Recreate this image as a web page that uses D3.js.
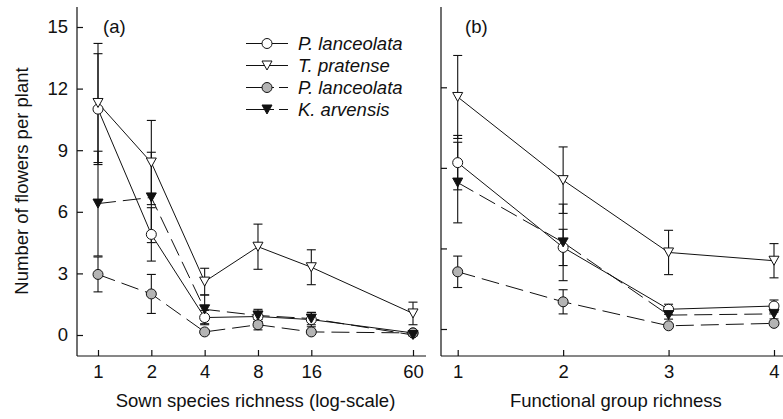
<!DOCTYPE html>
<html>
<head>
<meta charset="utf-8">
<script src="https://cdn.jsdelivr.net/npm/d3@7"></script>
<style>
  html, body { margin: 0; padding: 0; background: #fff; }
  svg { display: block; font-family: "Liberation Sans", Arial, Helvetica, sans-serif; }
</style>
</head>
<body>
<svg id="chart" width="783" height="419"></svg>
<script>
// ---- Panel (a): sown species richness (log scale) ----
const speciesRichness = [1, 2, 4, 8, 16, 60];
const plOpenA   = [11.0, 4.9, 0.85, 0.9, 0.75, 0.1];
const plOpenErrA = [2.7, 1.3, 0.35, 0.25, 0.35, 0.1];
const tpA       = [11.3, 8.4, 2.6, 4.3, 3.3, 1.05];
const tpErrA    = [2.9, 2.05, 0.65, 1.1, 0.85, 0.55];
const plGreyA   = [2.95, 2.0, 0.15, 0.5, 0.15, 0.1];
const plGreyErrA = [0.85, 0.95, 0.1, 0.25, 0.1, 0.05];
const kaA       = [6.4, 6.7, 1.25, 0.95, 0.8, 0.0];
const kaErrA    = [2.55, 2.2, 0.7, 0.3, 0.3, 0.05];
const yTicksA   = [0, 3, 6, 9, 12, 15];

// ---- Panel (b): functional group richness ----
const groupRichness = [1, 2, 3, 4];
const plOpenB   = [8.26, 4.05, 0.98, 1.14];
const plOpenErrB = [1.35, 0.9, 0.25, 0.3];
const tpB       = [11.52, 7.39, 3.80, 3.39];
const tpErrB    = [2.06, 1.65, 1.1, 0.85];
const plGreyB   = [2.84, 1.35, 0.16, 0.28];
const plGreyErrB = [0.78, 0.6, 0.1, 0.1];
const kaB       = [7.27, 4.30, 0.69, 0.75];
const kaErrB    = [2.0, 1.9, 0.2, 0.25];
const yTicksB   = [0, 4, 8, 12];

const legendNames = ["P. lanceolata", "T. pratense", "P. lanceolata", "K. arvensis"];

const INK = "#111";
const GREY = "#b4b4b4";
const FONT = 18.5;
const DASH = "18,7";

const svg = d3.select("#chart");

function marker(sel, type) {
  if (type === "circleOpen" || type === "circleGrey") {
    sel.append("circle").attr("r", 5)
      .attr("fill", type === "circleOpen" ? "#fff" : GREY)
      .attr("stroke", INK).attr("stroke-width", 1);
  } else {
    const s = 5;
    sel.append("path").attr("d", `M${-s},${-4.5}L${s},${-4.5}L0,${4.5}Z`)
      .attr("fill", type === "triOpen" ? "#fff" : INK)
      .attr("stroke", INK).attr("stroke-width", 1);
  }
}

function seriesFor(pl, plE, tp, tpE, gr, grE, ka, kaE) {
  return [
    { values: pl, err: plE, type: "circleOpen", dashed: false },
    { values: tp, err: tpE, type: "triOpen", dashed: false },
    { values: gr, err: grE, type: "circleGrey", dashed: true },
    { values: ka, err: kaE, type: "triFilled", dashed: true }
  ];
}

function drawPanel(opts) {
  const { xVals, x, y, yTicks, showLabels, axisX0, axisX1, axisY0, axisY1, series, title, tag, tagX } = opts;
  const g = svg.append("g");

  // axes lines
  g.append("line").attr("x1", axisX0).attr("x2", axisX0).attr("y1", axisY0).attr("y2", axisY1)
    .attr("stroke", INK).attr("stroke-width", 1.2);
  g.append("line").attr("x1", axisX0).attr("x2", axisX1).attr("y1", axisY1).attr("y2", axisY1)
    .attr("stroke", INK).attr("stroke-width", 1.2);

  const yAxis = d3.axisLeft(y).tickValues(yTicks).tickSizeInner(-6).tickSizeOuter(0).tickPadding(9);
  if (!showLabels) yAxis.tickFormat(() => "");
  const ya = g.append("g").attr("transform", `translate(${axisX0},0)`).call(yAxis);
  ya.select(".domain").remove();
  ya.selectAll("line").attr("stroke", INK).attr("stroke-width", 1.2);
  ya.selectAll("text").attr("font-size", FONT).attr("fill", INK).attr("font-family", null);

  const xAxis = d3.axisBottom(x).tickValues(xVals).tickFormat(d3.format("d"))
    .tickSizeInner(-6).tickSizeOuter(0).tickPadding(9);
  const xa = g.append("g").attr("transform", `translate(0,${axisY1})`).call(xAxis);
  xa.select(".domain").remove();
  xa.selectAll("line").attr("stroke", INK).attr("stroke-width", 1.2);
  xa.selectAll("text").attr("font-size", FONT).attr("fill", INK).attr("font-family", null);

  // axis title centred on tick range
  g.append("text").attr("x", (x(xVals[0]) + x(xVals[xVals.length - 1])) / 2).attr("y", 407)
    .attr("text-anchor", "middle").attr("font-size", FONT).attr("fill", INK).text(title);

  g.append("text").attr("x", tagX).attr("y", 33).attr("font-size", FONT).attr("fill", INK).text(tag);

  const line = d3.line().x((d, i) => x(xVals[i])).y(d => y(d));

  // connecting lines
  series.forEach(s => {
    g.append("path").attr("d", line(s.values)).attr("fill", "none")
      .attr("stroke", INK).attr("stroke-width", 1)
      .attr("stroke-dasharray", s.dashed ? DASH : null);
  });

  // error bars
  series.forEach(s => {
    s.values.forEach((v, i) => {
      const cx = x(xVals[i]);
      const e = s.err[i];
      const eb = g.append("g").attr("stroke", INK).attr("stroke-width", 1.1);
      eb.append("line").attr("x1", cx).attr("x2", cx).attr("y1", y(v + e)).attr("y2", y(v - e));
      eb.append("line").attr("x1", cx - 4.5).attr("x2", cx + 4.5).attr("y1", y(v + e)).attr("y2", y(v + e));
      eb.append("line").attr("x1", cx - 4.5).attr("x2", cx + 4.5).attr("y1", y(v - e)).attr("y2", y(v - e));
    });
  });

  // markers
  series.forEach(s => {
    s.values.forEach((v, i) => {
      const m = g.append("g").attr("transform", `translate(${x(xVals[i])},${y(v)})`);
      marker(m, s.type);
    });
  });
}

// Panel (a)
const xA = d3.scaleLog().base(2).domain([1, 60]).range([98, 413]);
const yA = d3.scaleLinear().domain([0, 15]).range([335, 27]);
drawPanel({
  xVals: speciesRichness, x: xA, y: yA, yTicks: yTicksA, showLabels: true,
  axisX0: 77, axisX1: 426, axisY0: 7, axisY1: 356,
  series: seriesFor(plOpenA, plOpenErrA, tpA, tpErrA, plGreyA, plGreyErrA, kaA, kaErrA),
  title: "Sown species richness (log-scale)", tag: "(a)", tagX: 103
});

// Panel (b)
const xB = d3.scaleLinear().domain([1, 4]).range([457.7, 774]);
const yB = d3.scaleLinear().domain([0, 12]).range([329, 87.3]);
drawPanel({
  xVals: groupRichness, x: xB, y: yB, yTicks: yTicksB, showLabels: false,
  axisX0: 441, axisX1: 790, axisY0: 7, axisY1: 356,
  series: seriesFor(plOpenB, plOpenErrB, tpB, tpErrB, plGreyB, plGreyErrB, kaB, kaErrB),
  title: "Functional group richness", tag: "(b)", tagX: 465
});

// shared y-axis title
svg.append("text").attr("transform", "translate(28,181) rotate(-90)")
  .attr("text-anchor", "middle").attr("font-size", FONT).attr("fill", INK)
  .text("Number of flowers per plant");

// legend
const legendTypes = ["circleOpen", "triOpen", "circleGrey", "triFilled"];
const legendDashed = [false, false, true, true];
const lg = svg.append("g");
legendNames.forEach((name, i) => {
  const yy = 43.5 + i * 22;
  lg.append("line").attr("x1", 246).attr("x2", 288).attr("y1", yy).attr("y2", yy)
    .attr("stroke", INK).attr("stroke-width", 1)
    .attr("stroke-dasharray", legendDashed[i] ? "28,5,12" : null);
  marker(lg.append("g").attr("transform", `translate(267,${yy})`), legendTypes[i]);
  lg.append("text").attr("x", 298).attr("y", yy + 6.5).attr("font-size", FONT)
    .attr("font-style", "italic").attr("fill", INK).text(name);
});
</script>
</body>
</html>
